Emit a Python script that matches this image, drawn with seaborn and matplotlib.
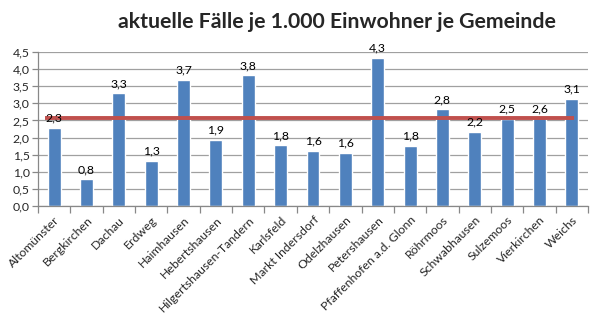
import matplotlib
matplotlib.use("Agg")
import matplotlib.pyplot as plt
import seaborn as sns
import pandas as pd
import numpy as np

gemeinden = ["Altomünster", "Bergkirchen", "Dachau", "Erdweg", "Haimhausen",
             "Hebertshausen", "Hilgertshausen-Tandern", "Karlsfeld", "Markt Indersdorf",
             "Odelzhausen", "Petershausen", "Pfaffenhofen a.d. Glonn", "Röhrmoos",
             "Schwabhausen", "Sulzemoos", "Vierkirchen", "Weichs"]
faelle = [2.28, 0.78, 3.29, 1.32, 3.69, 1.93, 3.82, 1.78, 1.61, 1.56, 4.33,
          1.76, 2.82, 2.17, 2.55, 2.57, 3.14]
durchschnitt = 2.57
yticks = [0.0, 0.5, 1.0, 1.5, 2.0, 2.5, 3.0, 3.5, 4.0, 4.5]

sns.set_theme(style="white")
plt.rcParams['font.family'] = ['Lato', 'DejaVu Sans']

df = pd.DataFrame({"Gemeinde": gemeinden, "Faelle": faelle})

fig = plt.figure(figsize=(6.01, 3.34), dpi=100)
ax = fig.add_axes([38/601, 1-206/334, 550/601, 154/334])

sns.barplot(data=df, x="Gemeinde", y="Faelle", color="#4F81BD", saturation=1,
            width=0.4, ax=ax)

n = len(gemeinden)
ax.plot([-0.28, n - 1 + 0.06], [durchschnitt, durchschnitt], color="#C0504D",
        lw=2.8, solid_capstyle="butt", zorder=3)

for i, v in enumerate(faelle):
    ax.text(i, v + 0.12, f"{v:.1f}".replace(".", ","), ha="center", va="bottom",
            fontsize=8.8, color="black", zorder=4)

ax.set_xlim(-0.5, n - 0.5)
ax.set_ylim(0, 4.5)
ax.set_yticks(yticks)
ax.set_yticklabels([f"{t:.1f}".replace(".", ",") for t in yticks], fontsize=8.8)
ax.yaxis.grid(True, color="#A0A0A0", lw=0.9)
ax.set_axisbelow(True)

ax.set_xticks(range(n))
ax.set_xticklabels(gemeinden, rotation=45, ha="right", rotation_mode="anchor",
                   fontsize=8.8)
ax.tick_params(axis="x", which="major", length=0, pad=6)
ax.set_xticks(np.arange(-0.5, n, 1.0), minor=True)
ax.tick_params(axis="x", which="minor", length=5, color="#888888", width=0.9,
               bottom=True, direction="out")
ax.tick_params(axis="y", length=4, color="#888888", width=0.9, left=True,
               direction="out", pad=2)

for s in ["top", "right"]:
    ax.spines[s].set_visible(False)
for s in ["left", "bottom"]:
    ax.spines[s].set_color("#888888")
    ax.spines[s].set_linewidth(0.9)

ax.set_xlabel("")
ax.set_ylabel("")

fig.text(0.56, 0.935, "aktuelle Fälle je 1.000 Einwohner je Gemeinde",
         ha="center", va="center", fontsize=15.3, fontweight="bold")

fig.savefig("out.png", dpi=100)
